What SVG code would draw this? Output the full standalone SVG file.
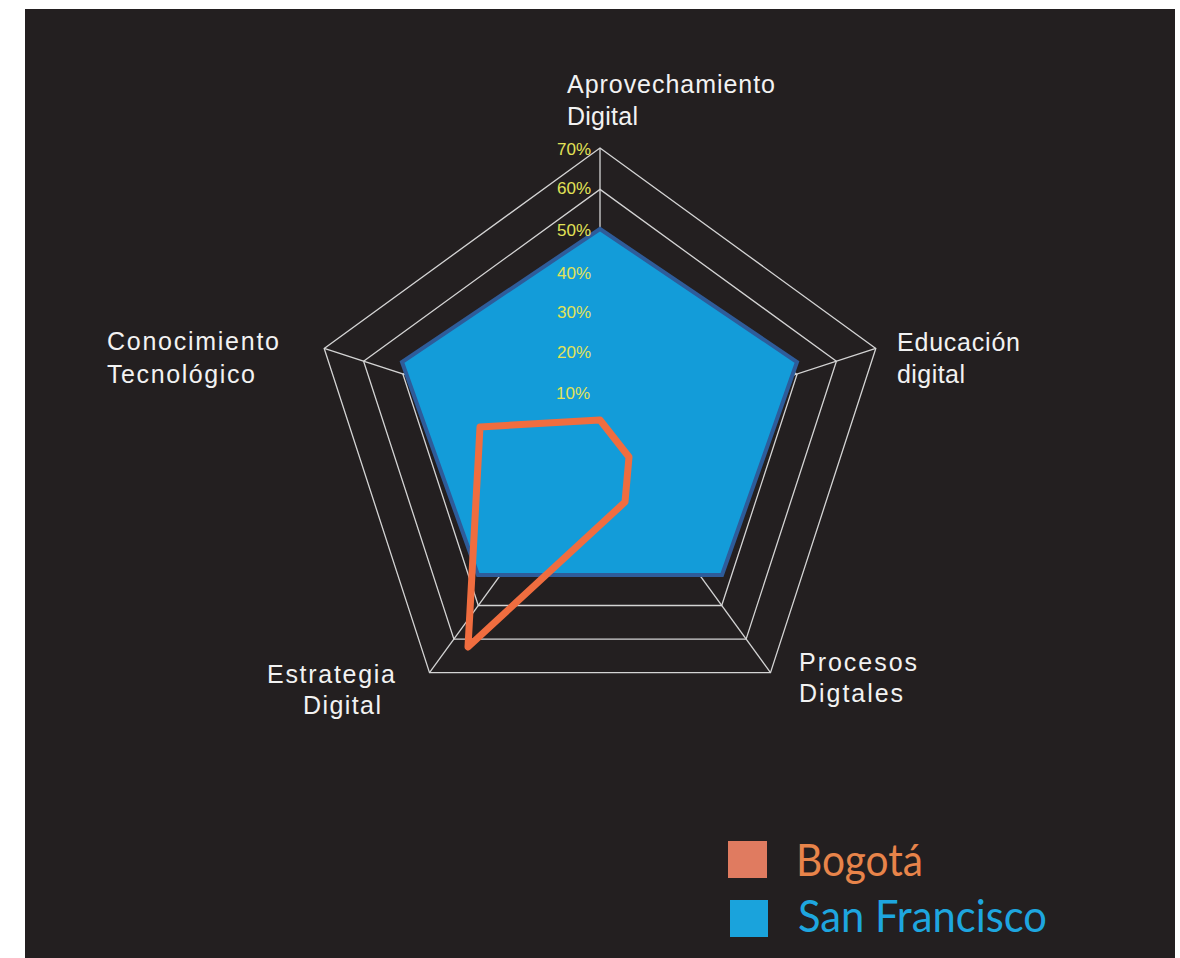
<svg xmlns="http://www.w3.org/2000/svg" width="1180" height="958" viewBox="0 0 1180 958">
<style>
.grid{fill:none;stroke:#d4d4d4;stroke-width:1.3}
.axis{font-family:"Liberation Sans",Arial,sans-serif;font-size:25px;fill:#f2f2f2}
.pct{font-family:"Liberation Sans",Arial,sans-serif;font-size:17px;fill:#e2e357;text-anchor:end}
.leg{font-family:Lato,"Open Sans",sans-serif;font-size:44px}
</style>
<rect x="0" y="0" width="1180" height="958" fill="#ffffff"/>
<rect x="25" y="9" width="1150" height="949" fill="#231f20"/>
<g id="connectors">
<polygon class="grid" points="600,148 875.8,348.4 770.5,672.6 429.5,672.6 324.2,348.4"/>
<polygon class="grid" points="600,189.4 836.4,361.2 746.1,639.1 453.9,639.1 363.6,361.2"/>
<polygon class="grid" points="600,230.9 797,374.5 721.7,605.5 478.3,605.5 403,374.5"/>
<line class="grid" x1="600" y1="438" x2="600" y2="148"/>
<line class="grid" x1="600" y1="438" x2="875.8" y2="348.4"/>
<line class="grid" x1="600" y1="438" x2="770.5" y2="672.6"/>
<line class="grid" x1="600" y1="438" x2="429.5" y2="672.6"/>
<line class="grid" x1="600" y1="438" x2="324.2" y2="348.4"/>
</g>
<g id="series-sanfrancisco">
<polygon points="600,229 797,362 722,575 478,575 402,362" fill="#139cd9" stroke="#2e5c9a" stroke-width="4" stroke-linejoin="miter"/>
</g>
<g id="series-bogota">
<polygon points="600,420 629,457 625,502 468,647 480,427" fill="none" stroke="#f06d3f" stroke-width="7" stroke-linejoin="round"/>
</g>
<g id="scale">
<text class="pct" x="591" y="155">70%</text>
<text class="pct" x="591" y="194">60%</text>
<text class="pct" x="591" y="236">50%</text>
<text class="pct" x="591" y="279">40%</text>
<text class="pct" x="591" y="318">30%</text>
<text class="pct" x="591" y="358">20%</text>
<text class="pct" x="590" y="399">10%</text>
</g>
<g id="label-aprovechamiento">
<text class="axis" x="567" y="93" textLength="208" lengthAdjust="spacing">Aprovechamiento</text>
<text class="axis" x="567" y="125" textLength="71" lengthAdjust="spacing">Digital</text>
</g>
<g id="label-educacion">
<text class="axis" x="897" y="351" textLength="123" lengthAdjust="spacing">Educación</text>
<text class="axis" x="897" y="383" textLength="68" lengthAdjust="spacing">digital</text>
</g>
<g id="label-procesos">
<text class="axis" x="799" y="671" textLength="118" lengthAdjust="spacing">Procesos</text>
<text class="axis" x="799" y="702" textLength="104" lengthAdjust="spacing">Digtales</text>
</g>
<g id="label-estrategia">
<text class="axis" x="267" y="683" textLength="128" lengthAdjust="spacing">Estrategia</text>
<text class="axis" x="303" y="714" textLength="78" lengthAdjust="spacing">Digital</text>
</g>
<g id="label-conocimiento">
<text class="axis" x="107" y="350" textLength="172" lengthAdjust="spacing">Conocimiento</text>
<text class="axis" x="107" y="383" textLength="148" lengthAdjust="spacing">Tecnológico</text>
</g>
<g id="legend-bogota">
<rect x="728" y="841" width="39" height="37" fill="#e07b60"/>
<text class="leg" x="796" y="876" fill="#e8844a" textLength="127" lengthAdjust="spacingAndGlyphs">Bogotá</text>
</g>
<g id="legend-sanfrancisco">
<rect x="730" y="900" width="38" height="37" fill="#1aa3dc"/>
<text class="leg" x="798" y="932" fill="#1ea6df" textLength="249" lengthAdjust="spacingAndGlyphs">San Francisco</text>
</g>
</svg>
